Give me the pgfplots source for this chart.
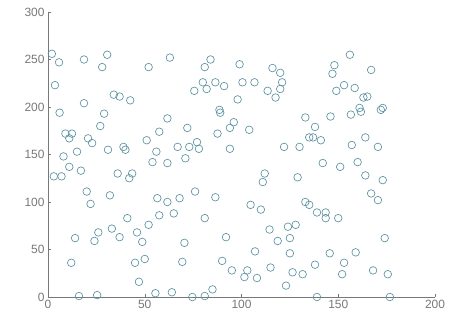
\documentclass[border=0pt]{standalone}
\usepackage{pgfplots}
\pgfplotsset{compat=1.18}
\usepackage{fontspec}
\setmainfont{Liberation Sans}
\definecolor{mk}{RGB}{90,145,160}
\definecolor{ax}{RGB}{120,120,120}
\begin{document}
\begin{tikzpicture}
\begin{axis}[
  scale only axis, width=387bp, height=285bp,
  xmin=0, xmax=200, ymin=0, ymax=300,
  xtick={0,50,...,200}, ytick={0,50,...,300},
  axis x line*=bottom, axis y line*=left,
  axis line style={ax, line width=0.7pt, -},
  tick style={ax, line width=0.5pt},
  tick align=inside, major tick length=3bp,
  tick label style={font=\fontsize{12}{14}\selectfont, text=ax},
  /pgf/number format/assume math mode=true,
  clip=false,
]
\addplot[only marks, mark=o, mark size=3.8bp, mk, mark options={line width=0.65pt}] coordinates {
(2,256)(5.7,247)(18.6,250)(30.6,255)(28,242)(52,242)(3.6,223)(18.6,204)
(34,213)(37,211)(42.5,207)
(63,252)(84,250)(81,242)(99,245)(116,241)(120,236)(121,226)(80,226)(86.5,226)
(75.6,217)(82,219)(91,222)(100.5,226)(106.7,226)(113.5,217)(120,219)(117.6,210)
(98,208)(88.6,197)
(156,255)(148,244)(147,235)(167,239)(153,223)(158.5,220)(149,217)(163,210)(165,211)
(173,199)(161,199)
(6,194)(29,193)(27,180)(9,172)(12.4,172)(11,167)(20.7,167)(22.8,162)(31,155)
(15,153)(8,148)(11,137)(3,127)(7,127)(17,133)(39,158)(40,155)(51,165)(56,153)
(54,142)(36,130)(43.5,130)(42,125)(57.5,174)(20,111)(22,98)(32,107)(56.5,104)
(61.7,188)(72,178)(89,194)(96,184)(94,178)(87.6,172)(104,176)(67,158)(73,158)
(77,163)(78,156)(71,146)(61.7,141)(94,156)(122,158)(130,158)(133,189)(135,168)
(112,130)(111,121)(129,126)(61.7,100)(68,104)(76,111)(86.5,105)(104.7,97)(133,100)
(172,197)(146,190)(156.5,192)(161.7,195)(138,179)(137,168)(141,165)(164,168)
(157,160)(170.5,158)(142,141)(151,137)(160,142)(164,128)(173,123)(167,109)(170.5,102)
(41,83)(57.5,86)(52,76)(14,62)(26,68)(24,59)(33,72)(37,63)(46,68)(48.7,58)
(12,36)(45,36)(50,40)(47,16)(16,1)(25.4,2)(55.5,4)
(110,92)(81,83)(65,88)(114.5,71)(124,74)(128,76)(118.7,59)(125,62)(92,63)(70.5,57)
(107,48)(125,46)(69.4,37)(90,38)(115,31)(95,28)(103,28)(101.5,21)(108,20)
(126.4,26)(131.6,24)(123,12)(85,8)(64,5)(74.6,0)(81,1)
(135,97)(139,89)(143.5,89)(143.5,83)(150,83)(174,62)(145.6,46)(159,47)(138,34)
(153,36)(152,24)(168,28)(175.6,24)(139,0)(176.7,0)
};
\end{axis}
\path (current axis.south west) ++(-48bp,-25bp) coordinate (a);
\path (current axis.north east) ++(22bp,12bp) coordinate (b);
\path (a) rectangle (b);
\end{tikzpicture}
\end{document}
